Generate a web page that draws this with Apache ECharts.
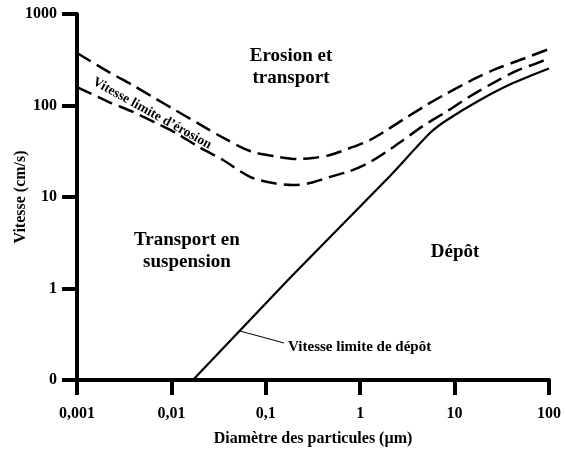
<!DOCTYPE html>
<html>
<head>
<meta charset="utf-8">
<script src="https://cdn.jsdelivr.net/npm/echarts@6/dist/echarts.min.js"></script>
<style>
  html, body { margin: 0; padding: 0; background: #fff; }
  #chart { width: 565px; height: 450px; }
</style>
</head>
<body>
<div id="chart"></div>
<script>
// tick labels (log axes, "0" stands for the 0.1 bottom of the y axis)
var xTickLabels = ["0,001", "0,01", "0,1", "1", "10", "100"];
var yTickLabels = ["0", "1", "10", "100", "1000"];

// upper dashed curve (vitesse limite d'érosion, borne haute)
var upperD = [0.001, 0.00218, 0.00392, 0.00687, 0.0112, 0.0196, 0.0352, 0.068, 0.119, 0.214, 0.316, 0.479, 0.78, 1.27, 1.92, 2.91, 4.85, 8.1, 15.3, 27.5, 49.3, 100];
var upperV = [375, 232, 166, 118, 88, 63, 44.5, 31.8, 28.1, 26, 26.7, 28.8, 34.3, 42, 54, 71, 99, 134, 190, 251, 314, 414];

// lower dashed curve (borne basse)
var lowerD = [0.001, 0.00218, 0.00392, 0.00687, 0.0112, 0.0196, 0.0352, 0.068, 0.119, 0.194, 0.294, 0.479, 0.78, 1.27, 1.92, 2.77, 4.62, 8.1, 14.2, 25.5, 44.7, 74.6, 100];
var lowerV = [159, 109, 85, 64.4, 50, 35.2, 25.4, 16.6, 14.2, 13.5, 14.2, 16.6, 19.2, 24.1, 31.5, 41, 59.7, 85, 124, 176, 238, 291, 330];

// solid curve (vitesse limite de dépôt)
var depotD = [0.0169, 0.18, 2.07, 5.48, 8.3, 18.6, 41.6, 100];
var depotV = [0.1, 1.3, 17, 50, 69.5, 115, 176, 254];

// leader line for the "Vitesse limite de dépôt" label
var leaderD = [0.0533, 0.156];
var leaderV = [0.343, 0.254];

function zip(a, b) {
  var out = [];
  for (var i = 0; i < a.length; i++) out.push([a[i], b[i]]);
  return out;
}

var font = "Liberation Serif";
var myChart = echarts.init(document.getElementById("chart"));

var option = {
  backgroundColor: "#fff",
  animation: false,
  textStyle: { fontFamily: font },
  grid: { left: 77, right: 16, top: 14, bottom: 70, containLabel: false, outerBoundsMode: "none" },
  xAxis: {
    type: "log",
    logBase: 10,
    min: 0.001,
    max: 100,
    name: "Diamètre des particules (µm)",
    nameLocation: "middle",
    nameGap: 51,
    nameMoveOverlap: false,
    nameTextStyle: { fontFamily: font, fontWeight: "bold", fontSize: 16, color: "#000" },
    axisLine: { lineStyle: { color: "#000", width: 4 } },
    axisTick: { length: 15, lineStyle: { color: "#000", width: 4 } },
    minorTick: { show: false },
    splitLine: { show: false },
    axisLabel: {
      margin: 26,
      color: "#000",
      fontFamily: font,
      fontWeight: "bold",
      fontSize: 16,
      formatter: function (v) {
        return xTickLabels[Math.round(Math.log10(v)) + 3];
      }
    }
  },
  yAxis: {
    type: "log",
    logBase: 10,
    min: 0.1,
    max: 1000,
    name: "Vitesse (cm/s)",
    nameLocation: "middle",
    nameGap: 48,
    nameMoveOverlap: false,
    nameTextStyle: { fontFamily: font, fontWeight: "bold", fontSize: 16, color: "#000" },
    axisLine: { show: true, lineStyle: { color: "#000", width: 4 } },
    axisTick: { show: true, length: 15, lineStyle: { color: "#000", width: 4 } },
    minorTick: { show: false },
    splitLine: { show: false },
    axisLabel: {
      margin: 20,
      color: "#000",
      fontFamily: font,
      fontWeight: "bold",
      fontSize: 16,
      formatter: function (v) {
        return yTickLabels[Math.round(Math.log10(v)) + 1];
      }
    }
  },
  series: [
    {
      name: "upper",
      type: "line",
      data: zip(upperD, upperV),
      smooth: 0.3,
      symbol: "none",
      lineStyle: { color: "#000", width: 2.5, type: [16, 7] }
    },
    {
      name: "lower",
      type: "line",
      data: zip(lowerD, lowerV),
      smooth: 0.3,
      symbol: "none",
      lineStyle: { color: "#000", width: 2.5, type: [16, 7] }
    },
    {
      name: "depot",
      type: "line",
      data: zip(depotD, depotV),
      smooth: 0.25,
      symbol: "none",
      lineStyle: { color: "#000", width: 2.2 }
    },
    {
      name: "leader",
      type: "line",
      data: zip(leaderD, leaderV),
      symbol: "none",
      lineStyle: { color: "#000", width: 1 }
    }
  ]
};

myChart.setOption(option);

// text annotations anchored in data coordinates
var notes = [
  { text: "Erosion et\ntransport", at: [0.185, 263], size: 19, align: "center", rot: 0 },
  { text: "Transport en\nsuspension", at: [0.0146, 2.57], size: 19, align: "center", rot: 0 },
  { text: "Dépôt", at: [10.1, 2.5], size: 19, align: "center", rot: 0 },
  { text: "Vitesse limite d’érosion", at: [0.00624, 82], size: 13.5, align: "center", rot: -29 },
  { text: "Vitesse limite de dépôt", at: [0.172, 0.23], size: 15, align: "left", rot: 0 }
];

var graphics = notes.map(function (n) {
  var p = myChart.convertToPixel({ gridIndex: 0 }, n.at);
  return {
    type: "text",
    x: p[0],
    y: p[1],
    rotation: n.rot * Math.PI / 180,
    style: {
      text: n.text,
      fill: "#000",
      font: "bold " + n.size + "px '" + font + "'",
      align: n.align,
      verticalAlign: "middle",
      lineHeight: 22
    }
  };
});

myChart.setOption({ graphic: graphics });
</script>
</body>
</html>
